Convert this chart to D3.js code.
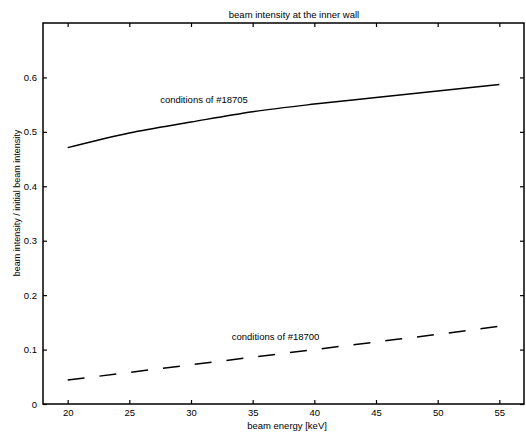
<!DOCTYPE html>
<html>
<head>
<meta charset="utf-8">
<script src="https://cdn.jsdelivr.net/npm/d3@7"></script>
<style>
  body { margin: 0; background: #fff; }
  svg text { font-family: "Liberation Sans", Arial, sans-serif; fill: #000; }
</style>
</head>
<body>
<svg id="chart" width="526" height="436"></svg>
<script>
// Beam energy grid [keV]
const energy = [20, 25, 30, 35, 40, 45, 50, 55];
// Relative beam intensity at the inner wall for two discharge conditions
const shot18705 = [0.471, 0.498, 0.518, 0.537, 0.551, 0.563, 0.575, 0.587];
const shot18700 = [0.044, 0.058, 0.072, 0.086, 0.100, 0.114, 0.128, 0.143];
const xTicks = [20, 25, 30, 35, 40, 45, 50, 55];
const yTicks = [0, 0.1, 0.2, 0.3, 0.4, 0.5, 0.6];

const svg = d3.select("#chart");
const plotLeft = 43, plotRight = 524, plotTop = 23, plotBottom = 404;

const x = d3.scaleLinear().domain([18, 57]).range([plotLeft, plotRight]);
const y = d3.scaleLinear().domain([0, 0.7]).range([plotBottom, plotTop]);

const tickLen = 4;

// Box frame
svg.append("rect")
  .attr("x", plotLeft).attr("y", plotTop)
  .attr("width", plotRight - plotLeft).attr("height", plotBottom - plotTop)
  .attr("fill", "none").attr("stroke", "#000").attr("stroke-width", 1.5);

// Bottom axis with inward ticks
const xAxis = svg.append("g").attr("transform", `translate(0,${plotBottom})`)
  .call(d3.axisBottom(x).tickValues(xTicks).tickSize(-tickLen).tickPadding(5).tickFormat(d3.format("d")));
xAxis.select(".domain").remove();
xAxis.selectAll("line").attr("stroke-width", 1.2);
xAxis.selectAll("text").attr("font-size", 9.5).attr("font-family", "Liberation Sans, Arial, sans-serif");

// Top ticks
svg.append("g").attr("transform", `translate(0,${plotTop})`)
  .call(d3.axisTop(x).tickValues(xTicks).tickSize(-tickLen).tickFormat(""))
  .call(g => g.select(".domain").remove())
  .selectAll("line").attr("stroke-width", 1.2);

// Left axis
const yAxis = svg.append("g").attr("transform", `translate(${plotLeft},0)`)
  .call(d3.axisLeft(y).tickValues(yTicks).tickSize(-tickLen).tickPadding(6).tickFormat(d => d === 0 ? "0" : d3.format(".1f")(d)));
yAxis.select(".domain").remove();
yAxis.selectAll("line").attr("stroke-width", 1.2);
yAxis.selectAll("text").attr("font-size", 9.5).attr("font-family", "Liberation Sans, Arial, sans-serif");

// Right ticks
svg.append("g").attr("transform", `translate(${plotRight},0)`)
  .call(d3.axisRight(y).tickValues(yTicks).tickSize(-tickLen).tickFormat(""))
  .call(g => g.select(".domain").remove())
  .selectAll("line").attr("stroke-width", 1.2);

const line = d3.line().x((d, i) => x(energy[i])).y(d => y(d)).curve(d3.curveMonotoneX);

svg.append("path").datum(shot18705)
  .attr("d", line).attr("fill", "none")
  .attr("stroke", "#000").attr("stroke-width", 1.5);

svg.append("path").datum(shot18700)
  .attr("d", line).attr("fill", "none")
  .attr("stroke", "#000").attr("stroke-width", 1.5)
  .attr("stroke-dasharray", "17,15");

// Curve annotations
svg.append("text").attr("x", x(27.5)).attr("y", y(0.553))
  .attr("font-size", 9.5).text("conditions of #18705");
svg.append("text").attr("x", x(33.3)).attr("y", y(0.117))
  .attr("font-size", 9.5).text("conditions of #18700");

// Title and axis labels
svg.append("text").attr("x", 294).attr("y", 18)
  .attr("text-anchor", "middle").attr("font-size", 9.5)
  .text("beam intensity at the inner wall");
svg.append("text").attr("x", 287).attr("y", 429)
  .attr("text-anchor", "middle").attr("font-size", 9.5)
  .text("beam energy [keV]");
svg.append("text")
  .attr("transform", "translate(20,203) rotate(-90)")
  .attr("text-anchor", "middle").attr("font-size", 9)
  .text("beam intensity / initial beam intensity");
</script>
</body>
</html>
